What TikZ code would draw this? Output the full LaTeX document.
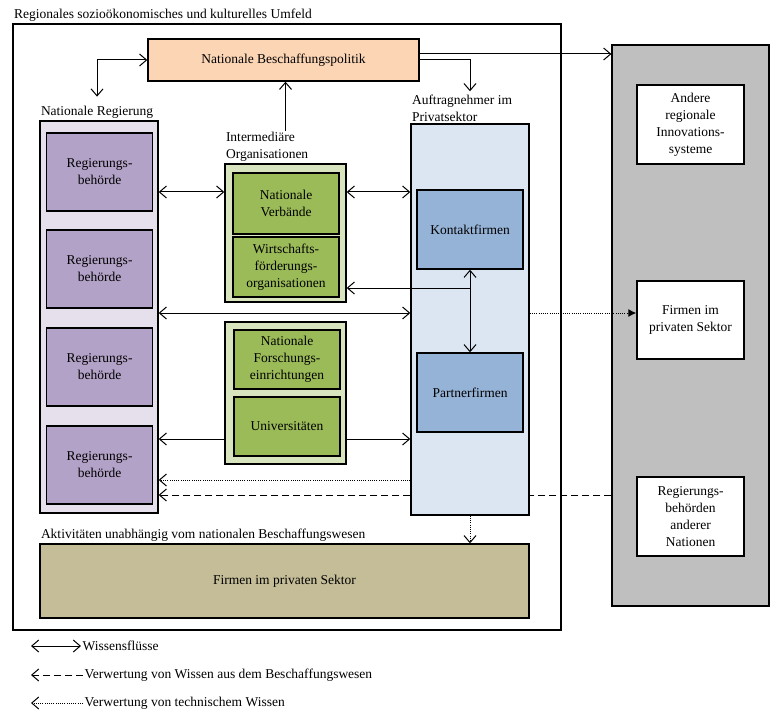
\documentclass[tikz,border=0pt]{standalone}
\usepackage{fontspec}
\setmainfont{Liberation Serif}
\usetikzlibrary{arrows.meta,positioning}
\tikzset{font=\fontsize{13.5}{17}\selectfont}
\definecolor{peach}{RGB}{252,213,181}
\definecolor{lavender}{RGB}{229,224,236}
\definecolor{purple}{RGB}{179,162,199}
\definecolor{palegreen}{RGB}{215,228,189}
\definecolor{olivegreen}{RGB}{155,187,89}
\definecolor{paleblue}{RGB}{220,230,242}
\definecolor{midblue}{RGB}{149,179,215}
\definecolor{khaki}{RGB}{196,189,151}
\definecolor{panelgray}{RGB}{191,191,191}
\begin{document}
\begin{tikzpicture}[x=1pt,y=-1pt,>={Straight Barb[length=7pt,width=12pt]},
  box/.style={draw,line width=1.4pt,align=center,inner sep=0pt},
  unit/.style={box,minimum width=106pt,minimum height=#1},
  flow/.style={line width=1pt},
  dashline/.style={flow,dash pattern=on 7pt off 4pt},
  dotline/.style={flow,dash pattern=on 1pt off 1.2pt},
  lab/.style={inner sep=1.5pt,align=left}]
\useasboundingbox (0,0) rectangle (784,722);
\node[box,line width=1.2pt,fill=white,minimum width=548pt,minimum height=606pt] (frame) at (287,327) {};
\node[box,line width=1.2pt,fill=panelgray,minimum width=157pt,minimum height=561pt] (panel) at (690.5,325.5) {};
\node[lab,anchor=south west] at (frame.north west) {Regionales sozioökonomisches und kulturelles Umfeld};
\node[box,fill=peach,minimum width=271pt,minimum height=42pt] (policy) at (283.5,60) {Nationale Beschaffungspolitik};
\node[box,fill=lavender,minimum width=118pt,minimum height=392pt] (gov) at (99,317) {};
\node[lab,anchor=south west] (govlab) at (gov.north west) {Nationale Regierung};
\node[unit=78pt,fill=purple] (agency1) at (99.5,172) {Regierungs-\\behörde};
\node[unit=78pt,fill=purple] (agency2) at (99.5,269) {Regierungs-\\behörde};
\node[unit=78pt,fill=purple] (agency3) at (99.5,367) {Regierungs-\\behörde};
\node[unit=78pt,fill=purple] (agency4) at (99.5,465) {Regierungs-\\behörde};
\node[box,fill=palegreen,minimum width=121pt,minimum height=138pt] (inter1) at (285.5,233) {};
\node[lab,anchor=south west] (interlab) at (inter1.north west) {Intermediäre\\Organisationen};
\node[unit=61pt,fill=olivegreen] (assoc) at (286,203.5) {Nationale\\Verbände};
\node[unit=60pt,fill=olivegreen] (promo) at (286,267) {Wirtschafts-\\förderungs-\\organisationen};
\node[box,fill=palegreen,minimum width=121pt,minimum height=142pt] (inter2) at (285.5,393) {};
\node[unit=59pt,fill=olivegreen] (research) at (287,359.5) {Nationale\\Forschungs-\\einrichtungen};
\node[unit=59pt,fill=olivegreen] (univ) at (287,426.5) {Universitäten};
\node[box,fill=paleblue,minimum width=118pt,minimum height=391pt] (contr) at (470,319.5) {};
\node[lab,anchor=south west] (contrlab) at (contr.north west) {Auftragnehmer im\\Privatsektor};
\node[unit=79pt,fill=midblue] (contact) at (470,229.5) {Kontaktfirmen};
\node[unit=79pt,fill=midblue] (partner) at (470,392.5) {Partnerfirmen};
\node[box,fill=khaki,minimum width=489pt,minimum height=74pt] (firms) at (284.5,581) {Firmen im privaten Sektor};
\node[lab,anchor=south west] at (firms.north west) {Aktivitäten unabhängig vom nationalen Beschaffungswesen};
\node[unit=79pt,minimum width=107pt,fill=white] (other) at (690.5,124.5) {Andere\\regionale\\Innovations-\\systeme};
\node[unit=78pt,minimum width=107pt,fill=white] (extfirms) at (690.5,320) {Firmen im\\privaten Sektor};
\node[unit=79pt,minimum width=107pt,fill=white] (extgov) at (690.5,516.5) {Regierungs-\\behörden\\anderer\\Nationen};
\draw[flow,<->] (policy.west) -| ([yshift=8pt]govlab.north);
\draw[flow,->] (inter1.north |- interlab.north) -- (inter1.north |- policy.south);
\draw[flow,->] (policy.east |- 0,54) -- (panel.west |- 0,54);
\draw[flow,->] (policy.east) -| ([yshift=2pt]contact.north |- contrlab.north);
\draw[flow,<->] (gov.east |- 0,192) -- (inter1.west |- 0,192);
\draw[flow,<->] (inter1.east |- 0,192) -- (contr.west |- 0,192);
\draw[flow,<->] (gov.east |- 0,313) -- (contr.west |- 0,313);
\draw[flow,->] (contact.south |- 0,288) -- (inter1.east |- 0,288);
\draw[flow,<->] (contact.south) -- (partner.north);
\draw[flow,->] (inter2.west |- 0,439) -- (gov.east |- 0,439);
\draw[flow,->] (inter2.east |- 0,439) -- (contr.west |- 0,439);
\draw[dotline,-{Latex[length=8pt,width=8pt]}] (contr.east |- 0,313) -- (extfirms.west |- 0,313);
\draw[dotline,->] (contr.west |- 0,480) -- (gov.east |- 0,480);
\draw[dashline] (panel.west |- 0,495) -- (contr.east |- 0,495);
\draw[dashline,->] (contr.west |- 0,495) -- (gov.east |- 0,495);
\draw[dotline,->] (contr.south) -- (contr.south |- firms.north);
\coordinate (key1) at (31,646);
\coordinate (key2) at (31,675);
\coordinate (key3) at (31,703);
\node[lab,anchor=west] (keylab1) at (81,646) {Wissensflüsse};
\node[lab,anchor=west] (keylab2) at (83,675) {Verwertung von Wissen aus dem Beschaffungswesen};
\node[lab,anchor=west] (keylab3) at (83,703) {Verwertung von technischem Wissen};
\draw[flow,<->] (key1) -- (keylab1.west);
\draw[dashline,->] (keylab2.west) -- (key2);
\draw[dotline,->] (keylab3.west) -- (key3);
\end{tikzpicture}
\end{document}
